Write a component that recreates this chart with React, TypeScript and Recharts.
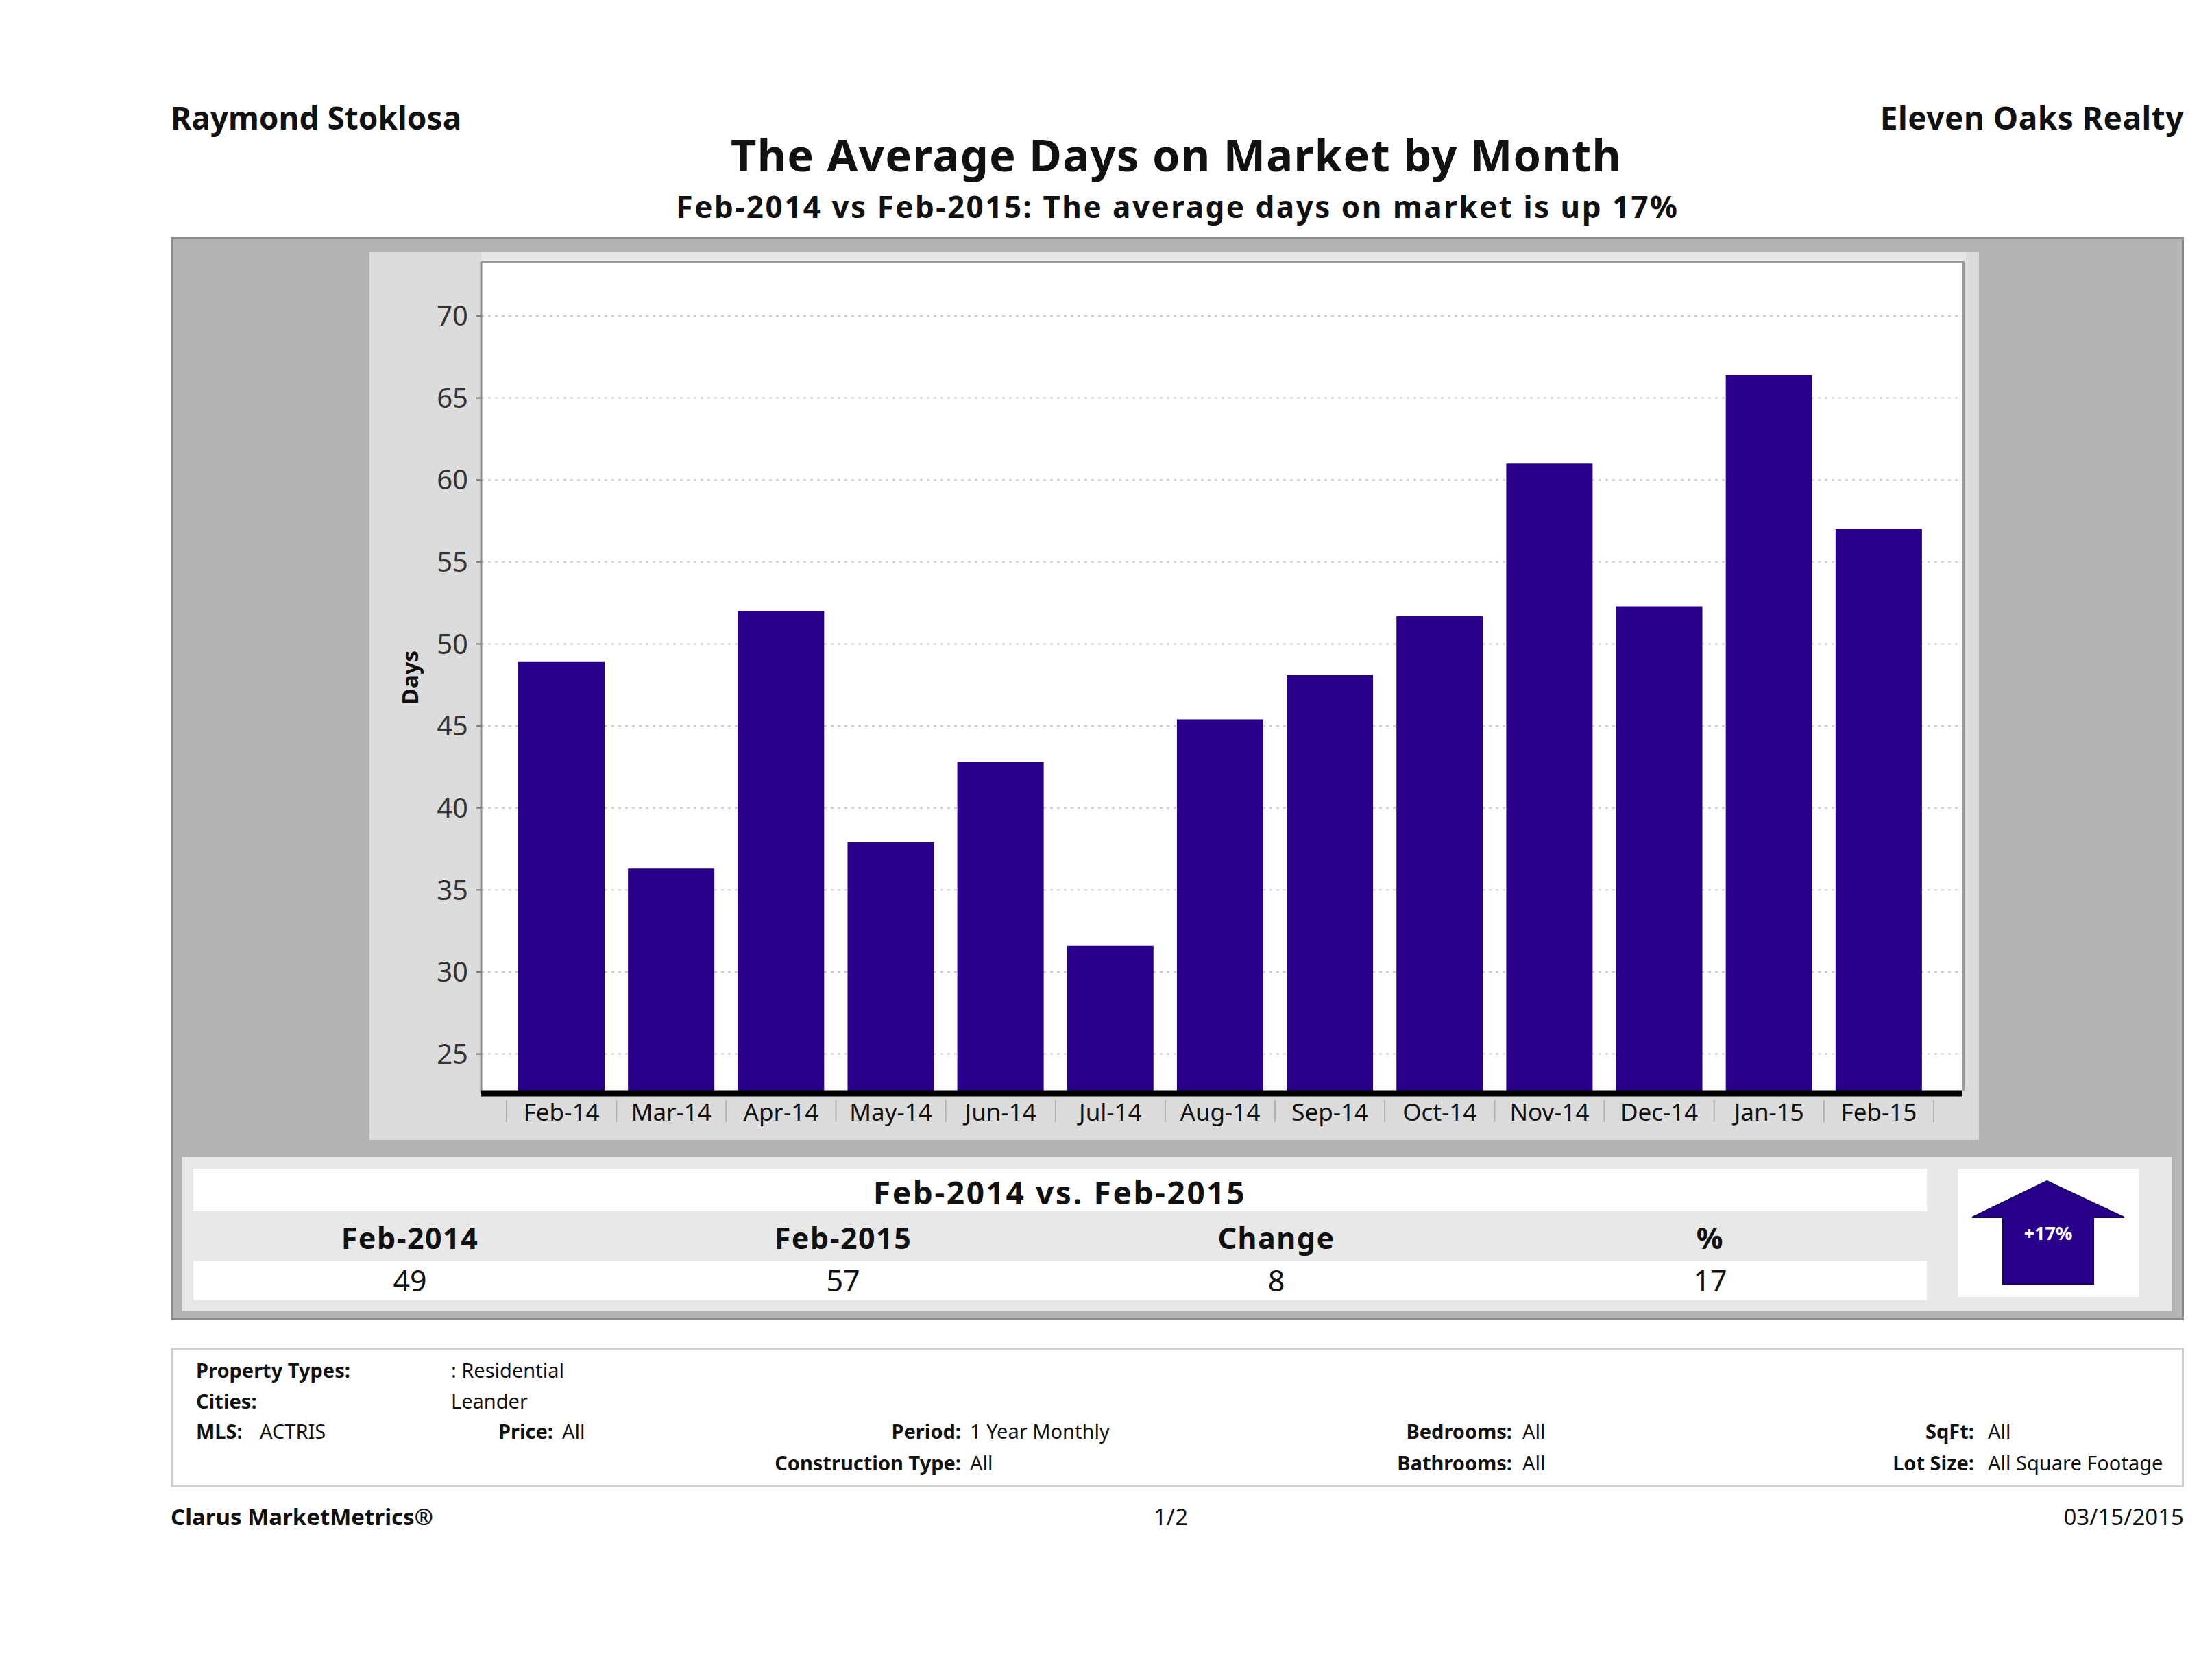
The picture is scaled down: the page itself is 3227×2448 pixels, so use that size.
import React from "react";
import { BarChart, Bar, XAxis, YAxis, CartesianGrid } from "recharts";

const months = [
  "Feb-14", "Mar-14", "Apr-14", "May-14", "Jun-14", "Jul-14", "Aug-14",
  "Sep-14", "Oct-14", "Nov-14", "Dec-14", "Jan-15", "Feb-15",
];
const avgDays = [48.9, 36.3, 52.0, 37.9, 42.8, 31.6, 45.4, 48.1, 51.7, 61.0, 52.3, 66.4, 57.0];
const yTicks = [25, 30, 35, 40, 45, 50, 55, 60, 65, 70];
const yDomain = [22.6, 73.3];

const compareHeaders = ["Feb-2014", "Feb-2015", "Change", "%"];
const compareValues = ["49", "57", "8", "17"];

const data = months.map((m, i) => ({ month: m, days: avgDays[i] }));

const FONT = '"Noto Sans", "DejaVu Sans", sans-serif';
const BAR = "#28008a";

// places a line of text by its baseline
function T({ x, baseline, size, bold, align = "left", color = "#111", spacing = 0, children }: any) {
  const shift = align === "center" ? "translateX(-50%)" : align === "right" ? "translateX(-100%)" : "none";
  return (
    <div
      style={{
        position: "absolute",
        left: x,
        top: baseline - 0.888 * size,
        fontSize: size,
        lineHeight: 1,
        fontWeight: bold ? 700 : 400,
        letterSpacing: spacing,
        color,
        whiteSpace: "nowrap",
        transform: shift,
      }}
    >
      {children}
    </div>
  );
}

function MonthTick(props: any) {
  const { x, y, payload, index } = props;
  const half = payload && payload.offset ? payload.offset : 80;
  const last = index === months.length - 1;
  return (
    <g>
      <line x1={x - half} x2={x - half} y1={y + 10} y2={y + 42} stroke="#b0b0b0" strokeWidth={2} />
      {last && <line x1={x + half} x2={x + half} y1={y + 10} y2={y + 42} stroke="#b0b0b0" strokeWidth={2} />}
      <text x={x} y={y + 40} textAnchor="middle" fontSize={35} fill="#111" fontFamily={FONT}>
        {payload.value}
      </text>
    </g>
  );
}

function DaysLabel(props: any) {
  const vb = props.viewBox || { x: 0, y: 14, width: 163, height: 1213 };
  const cx = 58;
  const cy = vb.y + vb.height / 2;
  return (
    <text
      x={cx}
      y={cy}
      transform={`rotate(-90 ${cx} ${cy})`}
      textAnchor="middle"
      dominantBaseline="central"
      fontSize={33}
      fontWeight="bold"
      fill="#111"
      fontFamily={FONT}
    >
      Days
    </text>
  );
}

function DaysChart() {
  return (
    <BarChart width={2348} height={1295} data={data} margin={{ top: 14, right: 24, bottom: 0, left: 0 }}>
      <CartesianGrid
        horizontal
        vertical={false}
        fill="#ffffff"
        stroke="#cccccc"
        strokeWidth={2}
        strokeDasharray="4 6"
      />
      <YAxis
        width={163}
        domain={yDomain}
        ticks={yTicks}
        allowDataOverflow
        axisLine={{ stroke: "#8a8a8a", strokeWidth: 3 }}
        tickLine={{ stroke: "#777", strokeWidth: 2 }}
        tickSize={7}
        tickMargin={12}
        tick={{ fontSize: 40, fill: "#333", fontFamily: FONT }}
        label={<DaysLabel />}
      />
      <Bar dataKey="days" fill={BAR} barSize={126} isAnimationActive={false} />
      <XAxis
        dataKey="month"
        height={68}
        interval={0}
        padding={{ left: 37, right: 42 }}
        axisLine={{ stroke: "#000", strokeWidth: 9 }}
        tickLine={false}
        tickSize={0}
        tickMargin={0}
        tick={<MonthTick />}
      />
    </BarChart>
  );
}

const colCenters = [598, 1230, 1862, 2495];

export default function App() {
  return (
    <div
      style={{
        position: "absolute",
        left: 0,
        top: 0,
        width: 3227,
        height: 2448,
        background: "#fff",
        fontFamily: FONT,
        overflow: "hidden",
      }}
    >
      <T x={249} baseline={189} size={46} bold>Raymond Stoklosa</T>
      <T x={3186} baseline={189} size={46} bold align="right" spacing={0.5}>Eleven Oaks Realty</T>
      <T x={1716} baseline={251} size={65} bold align="center" spacing={1.3}>The Average Days on Market by Month</T>
      <T x={1718} baseline={318} size={44} bold align="center" spacing={2.5}>
        Feb-2014 vs Feb-2015: The average days on market is up 17%
      </T>

      {/* gray panel */}
      <div
        style={{
          position: "absolute",
          left: 249,
          top: 346,
          width: 2937,
          height: 1580,
          boxSizing: "border-box",
          background: "#b3b3b3",
          border: "3px solid #8c8c8c",
        }}
      />
      <div style={{ position: "absolute", left: 539, top: 368, width: 2348, height: 1295, background: "#dcdcdc" }} />
      <div style={{ position: "absolute", left: 702, top: 368, width: 2166, height: 14, background: "#e6e6e6" }} />
      <div style={{ position: "absolute", left: 539, top: 368 }}>
        <DaysChart />
      </div>
      {/* plot frame, top and right edges */}
      <div
        style={{
          position: "absolute",
          left: 702,
          top: 381,
          width: 2164,
          height: 1210,
          boxSizing: "border-box",
          borderTop: "3px solid #9a9a9a",
          borderRight: "3px solid #9a9a9a",
          pointerEvents: "none",
        }}
      />

      {/* comparison table */}
      <div style={{ position: "absolute", left: 265, top: 1688, width: 2904, height: 224, background: "#e8e8e8" }} />
      <div style={{ position: "absolute", left: 282, top: 1705, width: 2529, height: 62, background: "#fff" }} />
      <div style={{ position: "absolute", left: 282, top: 1840, width: 2529, height: 57, background: "#fff" }} />
      <T x={1546} baseline={1757} size={46} bold align="center" spacing={2.6}>Feb-2014 vs. Feb-2015</T>
      {compareHeaders.map((h, i) => (
        <T key={h} x={colCenters[i]} baseline={1822} size={43} bold align="center" spacing={1.5}>{h}</T>
      ))}
      {compareValues.map((v, i) => (
        <T key={i} x={colCenters[i]} baseline={1884} size={43} align="center">{v}</T>
      ))}

      {/* arrow box */}
      <div style={{ position: "absolute", left: 2856, top: 1705, width: 264, height: 187, background: "#fff" }} />
      <svg style={{ position: "absolute", left: 0, top: 0 }} width={3227} height={2448}>
        <polygon
          points="2986,1723 3099,1776 3054,1776 3054,1873 2922,1873 2922,1776 2877,1776"
          fill={BAR}
          stroke="#1a0060"
          strokeWidth={2}
        />
        <text x={2988} y={1809} textAnchor="middle" fontSize={27} fontWeight="bold" fill="#fff" fontFamily={FONT}>
          +17%
        </text>
      </svg>

      {/* criteria box */}
      <div
        style={{
          position: "absolute",
          left: 249,
          top: 1966,
          width: 2937,
          height: 204,
          boxSizing: "border-box",
          border: "3px solid #cfcfcf",
          background: "#fff",
        }}
      />
      <T x={286} baseline={2010} size={29} bold>Property Types:</T>
      <T x={658} baseline={2010} size={29}>: Residential</T>
      <T x={286} baseline={2055} size={29} bold>Cities:</T>
      <T x={658} baseline={2055} size={29}>Leander</T>
      <T x={286} baseline={2099} size={29} bold>MLS:</T>
      <T x={379} baseline={2099} size={29}>ACTRIS</T>
      <T x={807} baseline={2099} size={29} bold align="right">Price:</T>
      <T x={820} baseline={2099} size={29}>All</T>
      <T x={1402} baseline={2099} size={29} bold align="right">Period:</T>
      <T x={1415} baseline={2099} size={29}>1 Year Monthly</T>
      <T x={1402} baseline={2145} size={29} bold align="right">Construction Type:</T>
      <T x={1415} baseline={2145} size={29}>All</T>
      <T x={2206} baseline={2099} size={29} bold align="right">Bedrooms:</T>
      <T x={2221} baseline={2099} size={29}>All</T>
      <T x={2206} baseline={2145} size={29} bold align="right">Bathrooms:</T>
      <T x={2221} baseline={2145} size={29}>All</T>
      <T x={2880} baseline={2099} size={29} bold align="right">SqFt:</T>
      <T x={2900} baseline={2099} size={29}>All</T>
      <T x={2880} baseline={2145} size={29} bold align="right">Lot Size:</T>
      <T x={2900} baseline={2145} size={29}>All Square Footage</T>

      {/* footer */}
      <T x={249} baseline={2225} size={33} bold>Clarus MarketMetrics®</T>
      <T x={1708} baseline={2225} size={33} align="center">1/2</T>
      <T x={3186} baseline={2225} size={33} align="right">03/15/2015</T>
    </div>
  );
}
